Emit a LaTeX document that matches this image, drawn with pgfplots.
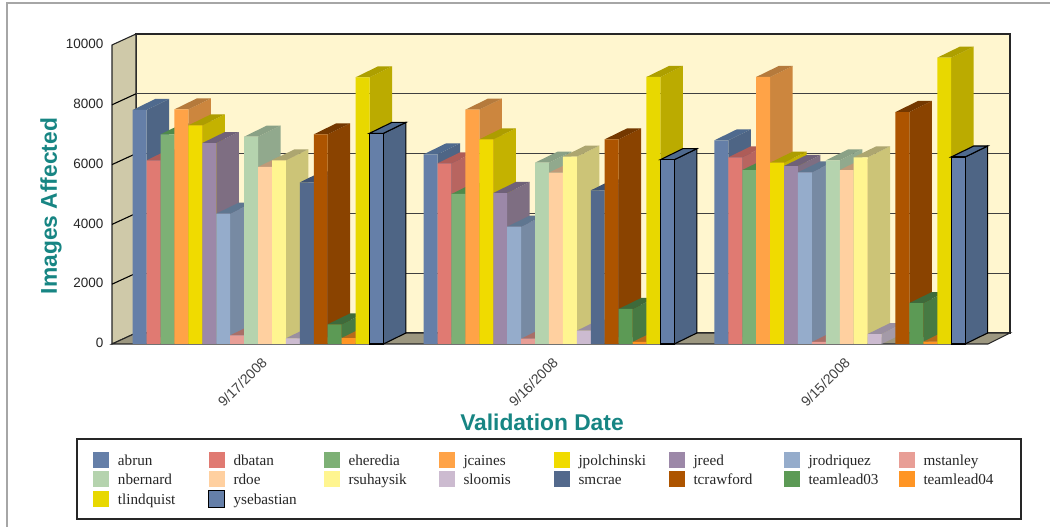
\documentclass[border=0pt]{standalone}
\usepackage{fontspec}
\setmainfont{Liberation Sans}
\newfontfamily\legfont{Liberation Serif}
\usepackage{pgfplots}
\pgfplotsset{compat=1.18}
\definecolor{wallL}{HTML}{CFC9A9}
\definecolor{wallB}{HTML}{FFF6CF}
\definecolor{floorC}{HTML}{9C9780}
\definecolor{teal1}{HTML}{178583}
\definecolor{aF}{HTML}{657FA8}\definecolor{aS}{HTML}{4E6585}\definecolor{aT}{HTML}{4F6A8E}
\definecolor{bF}{HTML}{E07A72}\definecolor{bS}{HTML}{B86560}\definecolor{bT}{HTML}{AE5C58}
\definecolor{cF}{HTML}{7DB075}\definecolor{cS}{HTML}{67915F}\definecolor{cT}{HTML}{4F8A4B}
\definecolor{dF}{HTML}{FFA347}\definecolor{dS}{HTML}{CC863E}\definecolor{dT}{HTML}{B57A3C}
\definecolor{eF}{HTML}{F0DB00}\definecolor{eS}{HTML}{C4B200}\definecolor{eT}{HTML}{AD9D00}
\definecolor{fF}{HTML}{9C88A8}\definecolor{fS}{HTML}{7E6E82}\definecolor{fT}{HTML}{6F6178}
\definecolor{gF}{HTML}{95ACCB}\definecolor{gS}{HTML}{778AA3}\definecolor{gT}{HTML}{5F7690}
\definecolor{hF}{HTML}{E89E96}\definecolor{hS}{HTML}{B97C77}\definecolor{hT}{HTML}{A86F68}
\definecolor{iF}{HTML}{B5D3AE}\definecolor{iS}{HTML}{91A98D}\definecolor{iT}{HTML}{8AA186}
\definecolor{jF}{HTML}{FFD0A0}\definecolor{jS}{HTML}{CCA582}\definecolor{jT}{HTML}{BF9A78}
\definecolor{kF}{HTML}{FFF590}\definecolor{kS}{HTML}{CCC477}\definecolor{kT}{HTML}{ADA670}
\definecolor{lF}{HTML}{CCBBD0}\definecolor{lS}{HTML}{A49AA8}\definecolor{lT}{HTML}{9A8FA0}
\definecolor{mF}{HTML}{53698C}\definecolor{mS}{HTML}{45587A}\definecolor{mT}{HTML}{3F5272}
\definecolor{nF}{HTML}{AD5400}\definecolor{nS}{HTML}{8A4300}\definecolor{nT}{HTML}{743800}
\definecolor{oF}{HTML}{5C9A55}\definecolor{oS}{HTML}{477A43}\definecolor{oT}{HTML}{3E6A3B}
\definecolor{pF}{HTML}{FF9524}\definecolor{pS}{HTML}{CC7820}\definecolor{pT}{HTML}{B56A1C}
\definecolor{qF}{HTML}{E8D800}\definecolor{qS}{HTML}{BBAB00}\definecolor{qT}{HTML}{AD9F00}
\pgfplotsset{swatch/.style={legend image code/.code={%
  \path[##1] (0pt,-2.5pt) rectangle (16pt,14pt);
  \path[draw=none,fill=none] (25pt,0pt) -- (25pt,1pt);}}}
% x-left of the bar, value, side colour, top colour, edge options
\newcommand\Cap[5]{%
  \ifdim #2pt=0pt\else
  \pgfmathsetmacro\xr{#1+13.93}%
  \pgfmathsetmacro\xs{#1+22.5}%
  \pgfmathsetmacro\xt{#1+13.93+22.5}%
  \pgfmathsetmacro\vt{#2+368}%
  \addplot[forget plot,fill=#3,#5] coordinates {(\xr,0)(\xt,368)(\xt,\vt)(\xr,#2)} --cycle;
  \addplot[forget plot,fill=#4,#5] coordinates {(#1,#2)(\xr,#2)(\xt,\vt)(\xs,\vt)} --cycle;
  \fi}
% [edge] front, side, top, index, three values
\newcommand\Ser[8][draw=none]{%
  \pgfmathsetmacro\xa{132.7+#5*13.93}%
  \pgfmathsetmacro\xb{423.6+#5*13.93}%
  \pgfmathsetmacro\xc{714.4+#5*13.93}%
  \Cap{\xa}{#6}{#3}{#4}{#1}%
  \Cap{\xb}{#7}{#3}{#4}{#1}%
  \Cap{\xc}{#8}{#3}{#4}{#1}%
  \pgfmathsetmacro\ma{\xa+6.965}%
  \pgfmathsetmacro\mb{\xb+6.965}%
  \pgfmathsetmacro\mc{\xc+6.965}%
  \addplot[ybar,bar width=13.93,bar shift=0,fill=#2,#1,swatch] coordinates {(\ma,#6)(\mb,#7)(\mc,#8)};
}
\begin{document}
\begin{tikzpicture}
\useasboundingbox (0,0) rectangle (1050pt,527pt);
\draw[color=black!35,line width=1.4pt] (7pt,0pt) -- (7pt,524pt) -- (1050pt,524pt);
\draw[black!85,line width=1.1pt] (77pt,8pt) rectangle (1021pt,88pt);
\begin{axis}[
  at={(112pt,183pt)},anchor=south west,
  scale only axis,width=898pt,height=310.96pt,
  xmin=112,xmax=1010,ymin=0,ymax=10400,
  clip=false,
  axis line style={draw=none},
  tick style={draw=none},
  axis on top=false,
  xtick={253,544,836},
  xticklabels={9/17/2008,9/16/2008,9/15/2008},
  ytick={0,2000,4000,6000,8000,10000},
  scaled y ticks=false,
  /pgf/number format/assume math mode=true,
  /pgf/number format/1000 sep={},
  y tick label style={font=\fontsize{13.5}{14}\selectfont,text=black!85,xshift=-5pt,yshift=1pt},
  x tick label style={font=\fontsize{14}{15}\selectfont,text=black!75,rotate=45,anchor=north east,yshift=-11pt,xshift=0pt},
  xlabel={Validation Date},ylabel={Images Affected},
  xlabel style={font=\fontsize{22.8}{24}\bfseries\selectfont,text=teal1,at={(axis description cs:0.4788,-0.2508)},anchor=center},
  ylabel style={font=\fontsize{22.8}{24}\bfseries\selectfont,text=teal1,at={(axis description cs:-0.0680,0.4437)},anchor=center},
  legend columns=8,
  legend style={draw=none,fill=none,at={(axis description cs:-0.0212,-0.3465)},anchor=north west,
    inner sep=0pt,outer sep=0pt,column sep=0pt,row sep=2.2pt,
    nodes={font=\legfont\fontsize{15.2}{16}\selectfont,text=black!85,text width=90pt,inner xsep=0pt,inner ysep=0pt,text height=10pt,text depth=3pt,align=left,anchor=base west},
    /tikz/every even column/.append style={column sep=0pt},
    /tikz/every odd column/.append style={column sep=0pt}},
  legend cell align=left,
]
% walls and floor
\addplot[forget plot,fill=wallB,draw=black!85,line width=1.1pt] coordinates {(136,368)(1010,368)(1010,10368)(136,10368)} --cycle;
\addplot[forget plot,fill=wallL,draw=black!85,line width=1.1pt] coordinates {(112,0)(136,368)(136,10368)(112,10000)} --cycle;
\addplot[forget plot,fill=floorC,draw=black!85,line width=1.1pt] coordinates {(112,0)(136,368)(1010,368)(988,0)} --cycle;
% grid on the walls
\addplot[forget plot,black!75,line width=1.1pt] coordinates {(136,2368)(1010,2368)};
\addplot[forget plot,black!75,line width=1.1pt] coordinates {(136,4368)(1010,4368)};
\addplot[forget plot,black!75,line width=1.1pt] coordinates {(136,6368)(1010,6368)};
\addplot[forget plot,black!75,line width=1.1pt] coordinates {(136,8368)(1010,8368)};
\addplot[forget plot,black,line width=1.1pt] coordinates {(112,2000)(136,2368)};
\addplot[forget plot,black,line width=1.1pt] coordinates {(112,4000)(136,4368)};
\addplot[forget plot,black,line width=1.1pt] coordinates {(112,6000)(136,6368)};
\addplot[forget plot,black,line width=1.1pt] coordinates {(112,8000)(136,8368)};
% bars, left to right
\Ser{aF}{aS}{aT}{0}{7826}{6343}{6812}
\addlegendentry{abrun}
\Ser{bF}{bS}{bT}{1}{6143}{6042}{6243}
\addlegendentry{dbatan}
\Ser{cF}{cS}{cT}{2}{7012}{5017}{5819}
\addlegendentry{eheredia}
\Ser{dF}{dS}{dT}{3}{7848}{7837}{8930}
\addlegendentry{jcaines}
\Ser{eF}{eS}{eT}{4}{7313}{6845}{6065}
\addlegendentry{jpolchinski}
\Ser{fF}{fS}{fT}{5}{6722}{5050}{5953}
\addlegendentry{jreed}
\Ser{gF}{gS}{gT}{6}{4359}{3924}{5741}
\addlegendentry{jrodriquez}
\Ser{hF}{hS}{hT}{7}{290}{178}{67}
\addlegendentry{mstanley}
\Ser{iF}{iS}{iT}{8}{6934}{6065}{6143}
\addlegendentry{nbernard}
\Ser{jF}{jS}{jT}{9}{5920}{5730}{5819}
\addlegendentry{rdoe}
\Ser{kF}{kS}{kT}{10}{6143}{6265}{6243}
\addlegendentry{rsuhaysik}
\Ser{lF}{lS}{lT}{11}{190}{446}{334}
\addlegendentry{sloomis}
\Ser{mF}{mS}{mT}{12}{5407}{5139}{0}
\addlegendentry{smcrae}
\Ser{nF}{nS}{nT}{13}{7012}{6845}{7759}
\addlegendentry{tcrawford}
\Ser{oF}{oS}{oT}{14}{658}{1171}{1371}
\addlegendentry{teamlead03}
\Ser{pF}{pS}{pT}{15}{200}{67}{78}
\addlegendentry{teamlead04}
\Ser{qF}{qS}{qT}{16}{8919}{8930}{9576}
\addlegendentry{tlindquist}
\Ser[draw=black,line width=1.1pt]{aF}{aS}{aT}{17}{7046}{6165}{6254}
\addlegendentry{ysebastian}
\end{axis}
\end{tikzpicture}
\end{document}
